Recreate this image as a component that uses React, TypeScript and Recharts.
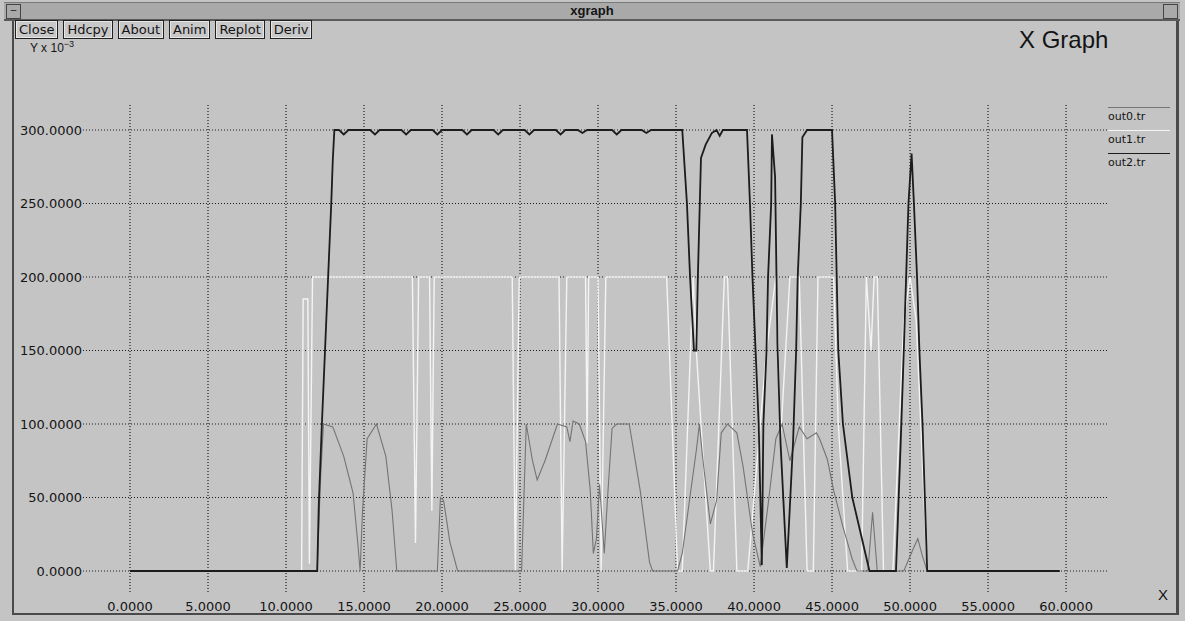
import { CartesianGrid, Line, LineChart, XAxis, YAxis } from 'recharts';

// tick labels
const xTicks = [0, 5, 10, 15, 20, 25, 30, 35, 40, 45, 50, 55, 60];
const yTicks = [0, 50, 100, 150, 200, 250, 300];

// out0.tr - grey trace, sits around 100 (x 10^-3)
const out0: [number, number][] = [
  [0, 0], [12.0, 0], [12.2, 60], [12.4, 100], [13.0, 98], [13.7, 78], [14.3, 53], [14.6, 19],
  [14.75, 0], [14.9, 40], [15.2, 90], [15.8, 100], [16.4, 78], [16.8, 41], [17.1, 0],
  [19.7, 0], [19.9, 50], [20.1, 48], [20.5, 20], [21.0, 0], [25.1, 0], [25.4, 100], [25.8, 75],
  [26.1, 62], [26.6, 75], [27.4, 100], [28.0, 98], [28.2, 88], [28.4, 102], [28.8, 100],
  [29.2, 88], [29.5, 55], [29.7, 12], [29.9, 22], [30.1, 59], [30.4, 12], [30.6, 48], [30.9, 97],
  [31.2, 100], [32.0, 100], [32.7, 55], [33.3, 6], [33.5, 0], [35.1, 0], [35.4, 12], [36.3, 82],
  [36.5, 100], [36.7, 78], [37.2, 32], [37.6, 48], [37.9, 94], [38.3, 100], [38.9, 94],
  [39.3, 71], [39.9, 26], [40.4, 3], [40.9, 45], [41.4, 90], [41.8, 100], [42.3, 75],
  [42.9, 98], [43.4, 90], [44.0, 94], [44.2, 90], [44.7, 76], [45.1, 55], [45.7, 30],
  [46.3, 8], [46.6, 0], [47.3, 0], [47.6, 40], [47.9, 0], [49.6, 0], [50.2, 15], [50.5, 22],
  [50.8, 10], [51.1, 0], [59.6, 0],
];

// out1.tr - white trace, plateau at 200 with dropouts
const out1: [number, number][] = [
  [0, 0], [11.0, 0], [11.1, 185], [11.4, 185], [11.5, 5], [11.7, 200], [18.1, 200], [18.3, 19],
  [18.5, 200], [19.2, 200], [19.35, 41], [19.5, 200], [24.5, 200], [24.7, 0], [24.95, 200],
  [27.5, 200], [27.7, 0], [28.0, 200], [29.2, 200], [29.3, 87], [29.4, 200], [30.0, 200],
  [30.2, 0], [30.5, 200], [34.4, 200], [35.1, 0], [35.4, 0], [36.1, 200], [36.3, 150],
  [37.2, 0], [37.4, 0], [38.1, 200], [38.3, 200], [38.9, 0], [39.6, 0], [40.8, 150],
  [41.4, 200], [41.7, 90], [42.3, 200], [42.9, 200], [43.4, 0], [43.8, 0], [44.1, 200],
  [45.1, 200], [45.4, 100], [46.0, 0], [46.9, 0], [47.2, 200], [47.5, 150], [47.7, 200],
  [47.9, 200], [48.3, 0], [48.9, 0], [49.6, 170], [50.0, 200], [50.4, 170], [51.1, 0],
  [59.6, 0],
];

// out2.tr - dark trace, plateau at 300
const out2: [number, number][] = [
  [0, 0], [12.0, 0], [12.1, 45], [12.3, 100], [12.5, 150], [12.7, 200], [12.9, 250],
  [13.0, 280], [13.1, 300], [13.4, 300], [13.7, 297], [14.0, 300], [15.4, 300], [15.7, 297],
  [16.0, 300], [17.4, 300], [17.7, 297], [18.0, 300], [19.4, 300], [19.7, 297], [20.0, 300],
  [21.3, 300], [21.6, 297], [21.9, 300], [23.3, 300], [23.6, 297], [23.9, 300], [25.3, 300],
  [25.6, 297], [25.9, 300], [27.3, 300], [27.6, 297], [27.9, 300], [28.7, 300], [29.0, 298],
  [29.3, 300], [30.9, 300], [31.2, 297], [31.5, 300], [32.8, 300], [33.1, 298], [33.4, 300],
  [35.4, 300], [35.7, 250], [35.9, 200], [36.15, 150], [36.3, 150], [36.4, 200], [36.6, 281],
  [36.9, 290], [37.3, 298], [37.6, 300], [37.8, 296], [38.0, 300], [39.55, 300], [39.74, 250],
  [39.9, 200], [40.1, 150], [40.3, 100], [40.5, 4], [40.6, 100], [40.8, 150], [40.9, 200],
  [41.1, 250], [41.15, 297], [41.35, 268], [41.5, 155], [41.7, 87], [42.1, 2], [42.5, 87],
  [42.7, 150], [42.8, 200], [43.0, 250], [43.1, 295], [43.4, 300], [45.0, 300], [45.2, 250],
  [45.3, 200], [45.4, 150], [45.7, 100], [46.3, 50], [47.4, 0], [49.1, 0], [49.4, 87],
  [49.6, 150], [49.75, 200], [49.9, 250], [50.1, 284], [50.25, 250], [50.45, 200], [50.6, 150],
  [50.8, 100], [50.95, 50], [51.1, 0], [59.6, 0],
];

const series = [
  { name: 'out1.tr', pts: out1, color: '#f4f4f4', width: 1.4 },
  { name: 'out0.tr', pts: out0, color: '#747474', width: 1.1 },
  { name: 'out2.tr', pts: out2, color: '#1c1c1c', width: 1.8 },
];
const legendOrder = ['out0.tr', 'out1.tr', 'out2.tr'];
const buttons = ['Close', 'Hdcpy', 'About', 'Anim', 'Replot', 'Deriv'];

const UI_FONT = '"DejaVu Sans", sans-serif';
const HELV = '"Liberation Sans", Arial, sans-serif';

const toPoints = (pts: [number, number][]) => pts.map(([x, y]) => ({ x, y }));
const fmt = (v: number) => v.toFixed(4);

export default function App() {
  const tickStyle = { fill: '#141414', fontSize: 13, fontFamily: UI_FONT };
  return (
    <div
      style={{
        position: 'fixed',
        left: 0,
        top: 0,
        width: 1185,
        height: 621,
        background: '#c4c4c4',
        overflow: 'hidden',
        color: '#141414',
      }}
    >
      {/* window frame */}
      <div style={{ position: 'absolute', left: 12, top: 2, width: 1162, height: 611, border: '2px solid #4a4a4a', borderTop: 'none' }} />
      <div style={{ position: 'absolute', left: 1178, top: 18, width: 0, height: 597, borderLeft: '1px solid #4a4a4a' }} />
      {/* title bar */}
      <div
        style={{
          position: 'absolute',
          left: 4,
          top: 2,
          width: 1176,
          height: 16,
          background: '#a9a9a9',
          borderTop: '1px solid #7a7a7a',
          borderBottom: '2px solid #5a5a5a',
          fontFamily: HELV,
        }}
      >
        <div style={{ position: 'absolute', left: 2, top: 1, width: 13, height: 13, border: '1px solid #444', fontSize: 10, lineHeight: '10px', textAlign: 'center' }}>–</div>
        <div style={{ position: 'absolute', right: 2, top: 1, width: 13, height: 13, border: '1px solid #444' }} />
        <div style={{ textAlign: 'center', fontWeight: 'bold', fontSize: 13, lineHeight: '16px' }}>xgraph</div>
      </div>

      {/* buttons */}
      <div style={{ position: 'absolute', left: 15, top: 20, display: 'flex', gap: 5, fontFamily: UI_FONT, fontSize: 13 }}>
        {buttons.map((b) => (
          <div
            key={b}
            style={{
              border: '1px solid #222',
              boxShadow: 'inset 0 0 0 1px #e6e6e6',
              padding: '0 3px',
              height: 17,
              lineHeight: '17px',
              background: '#c8c8c8',
            }}
          >
            {b}
          </div>
        ))}
      </div>

      <div style={{ position: 'absolute', left: 30, top: 39, fontFamily: HELV, fontSize: 12 }}>
        Y x 10<sup style={{ fontSize: 9 }}>−3</sup>
      </div>
      <div style={{ position: 'absolute', left: 1019, top: 26, fontFamily: HELV, fontSize: 24 }}>X Graph</div>

      {/* legend */}
      {legendOrder.map((name, i) => {
        const s = series.find((d) => d.name === name)!;
        return (
          <div key={name} style={{ position: 'absolute', left: 1108, top: 107 + i * 23, width: 62 }}>
            <div style={{ height: 0, borderTop: `1px solid ${s.color}` }} />
            <div style={{ fontFamily: UI_FONT, fontSize: 11, marginTop: 3, lineHeight: '12px' }}>{name}</div>
          </div>
        );
      })}

      <div style={{ position: 'absolute', left: 1158, top: 586, fontFamily: HELV, fontSize: 15 }}>X</div>

      <div style={{ position: 'absolute', left: 0, top: 0 }}>
        <LineChart width={1185} height={621} margin={{ top: 105, right: 77, bottom: 0, left: 8 }}>
          <CartesianGrid stroke="#1e1e1e" strokeDasharray="1 2" strokeWidth={1.2} syncWithTicks />
          <XAxis
            type="number"
            dataKey="x"
            domain={[-3.013, 62.69]}
            ticks={xTicks}
            tickFormatter={fmt}
            axisLine={false}
            tickLine={false}
            tickSize={0}
            tickMargin={9}
            height={28}
            tick={tickStyle}
            interval={0}
          />
          <YAxis
            type="number"
            dataKey="y"
            domain={[-14.97, 317]}
            ticks={yTicks}
            tickFormatter={fmt}
            axisLine={false}
            tickLine={false}
            tickSize={0}
            tickMargin={1}
            width={75}
            tick={tickStyle}
            interval={0}
          />
          {series.map((s) => (
            <Line
              key={s.name}
              data={toPoints(s.pts)}
              dataKey="y"
              name={s.name}
              type="linear"
              stroke={s.color}
              strokeWidth={s.width}
              dot={false}
              activeDot={false}
              isAnimationActive={false}
            />
          ))}
        </LineChart>
      </div>
    </div>
  );
}
